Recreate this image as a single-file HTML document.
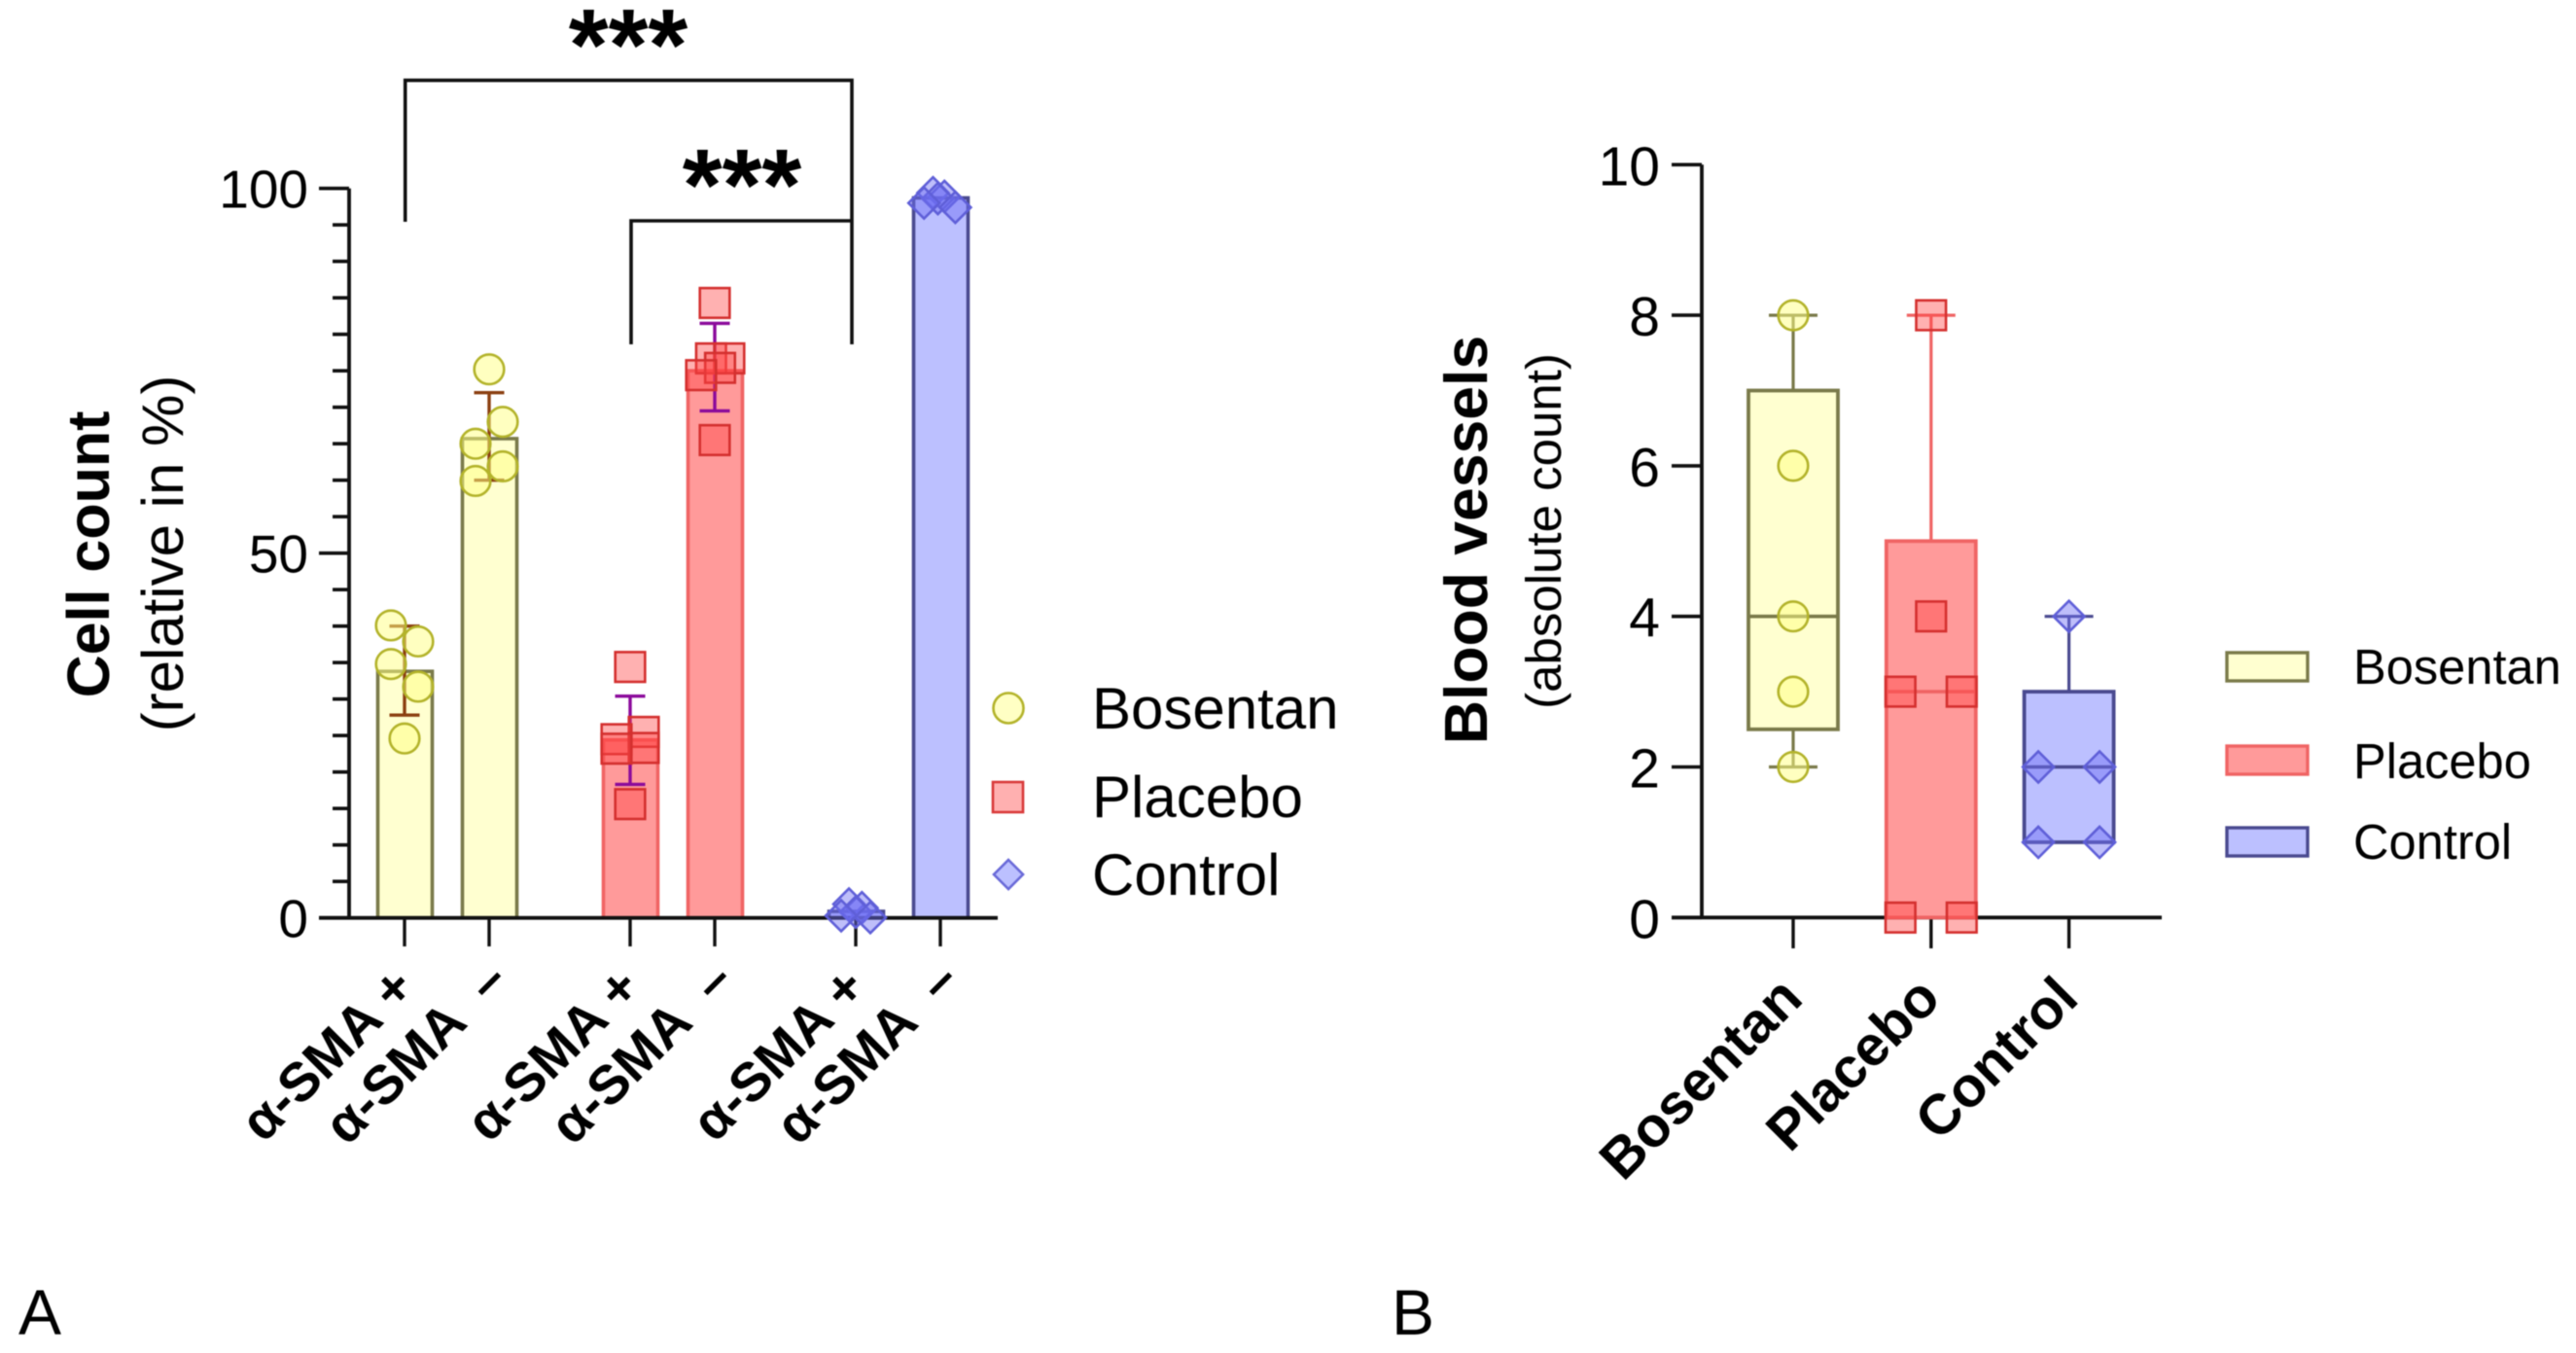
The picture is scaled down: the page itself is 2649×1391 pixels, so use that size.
<!DOCTYPE html>
<html lang="en">
<head>
<meta charset="utf-8">
<title>Cell count and blood vessels</title>
<style>
html,body{margin:0;padding:0;background:#fff;}
svg{display:block;filter:blur(0.6px);}
text{font-family:"Liberation Sans",Arial,sans-serif;fill:#000;}
</style>
</head>
<body>
<svg id="fig" xmlns="http://www.w3.org/2000/svg" width="2649" height="1391" viewBox="0 0 2649 1391">
  <rect x="0" y="0" width="2649" height="1391" fill="#fff"/>
  <g id="panelA"></g>
  <g id="panelB"></g>

  <text transform="translate(112 570) rotate(-90)" text-anchor="middle" font-size="61" font-weight="700">Cell count</text>
  <text transform="translate(188 569) rotate(-90)" text-anchor="middle" font-size="60">(relative in %)</text>
  <text transform="translate(1529 555) rotate(-90)" text-anchor="middle" font-size="62.5" font-weight="700">Blood vessels</text>
  <text transform="translate(1605 546) rotate(-90)" text-anchor="middle" font-size="51">(absolute count)</text>

  <path d="M416.7 228V82.6H876V354" fill="none" stroke="#111" stroke-width="3.6"/>
  <path d="M649 354V227H876" fill="none" stroke="#111" stroke-width="3.6"/>
  <text x="646" y="82" text-anchor="middle" font-size="105" font-weight="700">***</text>
  <text x="763" y="226" text-anchor="middle" font-size="105" font-weight="700">***</text>

  <g>
    <circle cx="1037" cy="728" r="15.5" fill="#ffffc4" stroke="#b3b32a" stroke-width="2.6"/>
    <text x="1123" y="749" font-size="60">Bosentan</text>
    <rect x="1021" y="804" width="31" height="31" fill="#ffb0b0" stroke="#d93a3a" stroke-width="2.6"/>
    <text x="1123" y="840" font-size="60">Placebo</text>
    <path d="M1037 884L1052 899L1037 914L1022 899Z" fill="#bcc0ff" stroke="#6a6ad8" stroke-width="2.6"/>
    <text x="1123" y="920" font-size="60">Control</text>
  </g>

  <g>
    <rect x="2290" y="671" width="83" height="29" fill="#ffffd0" stroke="#7a7a4a" stroke-width="3.4"/>
    <text x="2420" y="703" font-size="50.6">Bosentan</text>
    <rect x="2290" y="767" width="83" height="29" fill="#ff9a9a" stroke="#f06464" stroke-width="3.4"/>
    <text x="2420" y="800" font-size="50.6">Placebo</text>
    <rect x="2290" y="851" width="83" height="29" fill="#bcc0ff" stroke="#4a4a90" stroke-width="3.4"/>
    <text x="2420" y="883" font-size="50.6">Control</text>
  </g>

  <text x="19" y="1372" font-size="66">A</text>
  <text x="1431" y="1372" font-size="66">B</text>
</svg>

<script>
/* ---------- Panel A data ---------- */
const barCategories = ["α-SMA +", "α-SMA  –", "α-SMA +", "α-SMA  –", "α-SMA +", "α-SMA  –"];
const barGroups = ["Bosentan", "Bosentan", "Placebo", "Placebo", "Control", "Control"];
const barMeans = [33.8, 65.7, 24.4, 75.0, 0.9, 98.7];
const errorHigh = [40.0, 72.0, 30.4, 81.5, 1.6, 99.4];
const errorLow = [27.8, 60.0, 18.3, 69.5, 0.2, 98.0];
const pointsBar1 = [40.1, 37.9, 34.8, 31.7, 24.6];
const pointsBar2 = [75.2, 68.0, 65.0, 61.9, 59.9];
const pointsBar3 = [34.4, 25.5, 24.5, 23.3, 23.2, 15.6];
const pointsBar4 = [84.3, 76.7, 76.7, 75.4, 74.4, 65.5];
const pointsBar5 = [1.9, 1.4, 0.8, 0.3, 0.05];
const pointsBar6 = [99.4, 98.9, 98.6, 98.0, 97.4];
const swarmBar1 = [-1, 1, -1, 1, 0];
const swarmBar2 = [0, 1, -1, 1, -1];
const swarmBar3 = [0, 1, -1, 1, -1, 0];
const swarmBar4 = [0, -0.27, 1.07, 0.39, -1, 0];
const swarmBar5 = [-0.5, 0.45, 0, -1.07, 1.07];
const swarmBar6 = [-0.54, 0.3, -0.18, -1.2, 1.1];
const ticksA = [0, 50, 100];
const minorStepA = 5;

/* ---------- Panel B data ---------- */
const boxCategories = ["Bosentan", "Placebo", "Control"];
const boxQ1 = [2.5, 0, 1];
const boxMedian = [4, 3, 2];
const boxQ3 = [7, 5, 3];
const whiskerLow = [2, 0, 1];
const whiskerHigh = [8, 8, 4];
const pointsBosentan = [8, 6, 4, 3, 2];
const pointsPlacebo = [8, 4, 3, 3, 0, 0];
const pointsControl = [4, 2, 2, 1, 1];
const swarmBosentan = [0, 0, 0, 0, 0];
const swarmPlacebo = [0, 0, -1, 1, -1, 1];
const swarmControl = [0, -1, 1, -1, 1];
const ticksB = [0, 2, 4, 6, 8, 10];

/* ---------- helpers ---------- */
const NS = "http://www.w3.org/2000/svg";
function make(tag, attrs, parent) {
  const n = document.createElementNS(NS, tag);
  for (const k in attrs) n.setAttribute(k, attrs[k]);
  parent.appendChild(n);
  return n;
}
const groupStyle = {
  Bosentan: { fill: "#ffffd0", stroke: "#7a7a4a", err: "#8b3f10", mFill: "rgba(255,255,130,.5)", mStroke: "#b3b32a" },
  Placebo: { fill: "#ff9a9a", stroke: "#f06464", err: "#8b0a9b", mFill: "rgba(255,70,70,.42)", mStroke: "#d4302f" },
  Control: { fill: "#bcc0ff", stroke: "#4a4a90", err: "#3a3ac0", mFill: "rgba(110,110,245,.45)", mStroke: "#5f5fd8" }
};
function marker(parent, group, cx, cy) {
  const s = groupStyle[group];
  const common = { fill: s.mFill, stroke: s.mStroke, "stroke-width": 2.6 };
  if (group === "Bosentan") return make("circle", Object.assign({ cx: cx, cy: cy, r: 15.3 }, common), parent);
  if (group === "Placebo") return make("rect", Object.assign({ x: cx - 15.3, y: cy - 15.3, width: 30.6, height: 30.6 }, common), parent);
  return make("path", Object.assign({ d: `M${cx} ${cy - 16}L${cx + 16} ${cy}L${cx} ${cy + 16}L${cx - 16} ${cy}Z` }, common), parent);
}

/* ---------- Panel A ---------- */
const panelA = document.getElementById("panelA");
const yA = v => 943.7 - v * 7.5;
const xA = i => 416 + 232 * Math.floor(i / 2) + 87 * (i % 2);
const pointsA = [pointsBar1, pointsBar2, pointsBar3, pointsBar4, pointsBar5, pointsBar6];
const swarmA = [swarmBar1, swarmBar2, swarmBar3, swarmBar4, swarmBar5, swarmBar6];
const swarmUnitA = 14;

barMeans.forEach((m, i) => {
  const s = groupStyle[barGroups[i]];
  const r = make("rect", { x: xA(i) - 27.5, y: yA(m), width: 56, height: yA(0) - yA(m), fill: s.fill, stroke: s.stroke, "stroke-width": 3.6 }, panelA);
  
  
});

/* axes A */
const axisA = make("path", { d: `M359 ${yA(100)}V${yA(0)}M328 ${yA(0)}H1026`, fill: "none", stroke: "#111", "stroke-width": 3.8 }, panelA);


for (let v = 0; v <= 100; v += minorStepA) {
  const major = ticksA.indexOf(v) >= 0;
  const t = make("line", { x1: major ? 328 : 342, x2: 359, y1: yA(v), y2: yA(v), stroke: "#111", "stroke-width": 3.6 }, panelA);
  
  
}
ticksA.forEach(v => {
  const l = make("text", { x: 317, y: yA(v) + 20, "text-anchor": "end", "font-size": 55 }, panelA);
  l.textContent = v;
  
  
});
barCategories.forEach((c, i) => {
  const t = make("line", { x1: xA(i), x2: xA(i), y1: yA(0), y2: 973, stroke: "#111", "stroke-width": 3.4 }, panelA);
  
  
  const plus = i % 2 === 0;
  const ax = xA(i) + (plus ? 13 : 22);
  const ay = plus ? 1018 : 1011;
  const l = make("text", { x: ax, y: ay, "text-anchor": "end", "font-size": 56, "font-weight": 700, transform: `rotate(-45 ${ax} ${ay})`, style: "white-space:pre" }, panelA);
  l.textContent = c;
  
  
});

/* error bars and points A */
barMeans.forEach((m, i) => {
  const s = groupStyle[barGroups[i]];
  const cx = xA(i);
  const hw = i < 4 ? 15.5 : 15;
  if (i < 4) {
    const e = make("path", { d: `M${cx - hw} ${yA(errorHigh[i])}H${cx + hw}M${cx} ${yA(errorHigh[i])}V${yA(errorLow[i])}M${cx - hw} ${yA(errorLow[i])}H${cx + hw}`, fill: "none", stroke: s.err, "stroke-width": 3.4 }, panelA);
    
    
  }
  pointsA[i].forEach((v, j) => {
    const p = marker(panelA, barGroups[i], cx + swarmA[i][j] * swarmUnitA, yA(v));
    
    
  });
});

/* ---------- Panel B ---------- */
const panelB = document.getElementById("panelB");
const yB = v => 943.3 - v * 77.4;
const xB = i => 1844 + 141.8 * i;
const pointsB = [pointsBosentan, pointsPlacebo, pointsControl];
const swarmB = [swarmBosentan, swarmPlacebo, swarmControl];
const swarmUnitB = 31.5;

const axisB = make("path", { d: `M1750 ${yB(10)}V${yB(0)}M1719 ${yB(0)}H2223`, fill: "none", stroke: "#111", "stroke-width": 3.8 }, panelB);


ticksB.forEach(v => {
  const t = make("line", { x1: 1719, x2: 1750, y1: yB(v), y2: yB(v), stroke: "#111", "stroke-width": 3.6 }, panelB);
  
  
  const l = make("text", { x: 1707, y: yB(v) + 21, "text-anchor": "end", "font-size": 57 }, panelB);
  l.textContent = v;
  
  
});
boxCategories.forEach((c, i) => {
  const s = groupStyle[c];
  const cx = xB(i);
  const t = make("line", { x1: cx, x2: cx, y1: yB(0), y2: 975, stroke: "#111", "stroke-width": 3.4 }, panelB);
  
  
  const ax = cx + 12, ay = 1029;
  const l = make("text", { x: ax, y: ay, "text-anchor": "end", "font-size": 58, "font-weight": 700, transform: `rotate(-45 ${ax} ${ay})` }, panelB);
  l.textContent = c;
  
  

  const w = make("path", { d: `M${cx - 25} ${yB(whiskerHigh[i])}H${cx + 25}M${cx} ${yB(whiskerHigh[i])}V${yB(boxQ3[i])}M${cx} ${yB(boxQ1[i])}V${yB(whiskerLow[i])}M${cx - 25} ${yB(whiskerLow[i])}H${cx + 25}`, fill: "none", stroke: s.stroke, "stroke-width": 3.2 }, panelB);
  
  

  const b = make("rect", { x: cx - 46, y: yB(boxQ3[i]), width: 92, height: yB(boxQ1[i]) - yB(boxQ3[i]), fill: s.fill, stroke: s.stroke, "stroke-width": 3.8 }, panelB);
  
  

  const med = make("line", { x1: cx - 46, x2: cx + 46, y1: yB(boxMedian[i]), y2: yB(boxMedian[i]), stroke: s.stroke, "stroke-width": 3.6 }, panelB);
  
  

  pointsB[i].forEach((v, j) => {
    const p = marker(panelB, c, cx + swarmB[i][j] * swarmUnitB, yB(v));
    
    
  });
});
</script>
</body>
</html>
